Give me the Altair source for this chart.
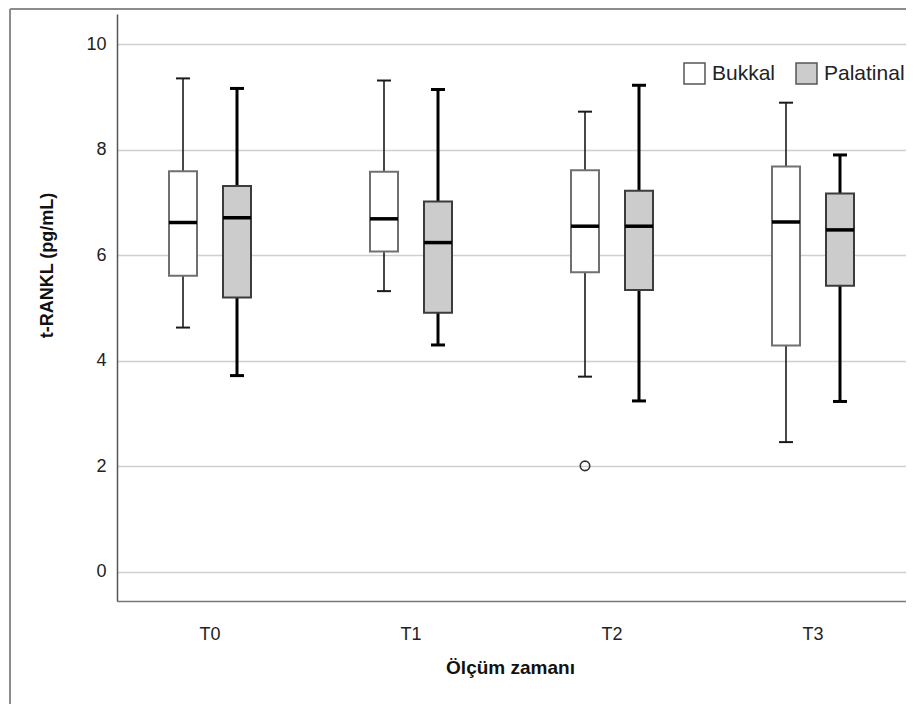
import altair as alt
import pandas as pd

# ---- data ----
times = ["T0", "T1", "T2", "T3"]
groups = ["Bukkal", "Palatinal"]
row_time = ["T0", "T0", "T1", "T1", "T2", "T2", "T3", "T3"]
row_group = ["Bukkal", "Palatinal"] * 4
w_low = [4.63, 3.72, 5.32, 4.30, 3.70, 3.24, 2.46, 3.23]
q1 = [5.61, 5.20, 6.07, 4.91, 5.68, 5.34, 4.29, 5.42]
median = [6.62, 6.71, 6.69, 6.24, 6.55, 6.55, 6.63, 6.48]
q3 = [7.59, 7.31, 7.58, 7.02, 7.61, 7.22, 7.68, 7.17]
w_high = [9.35, 9.16, 9.31, 9.14, 8.72, 9.22, 8.89, 7.90]
out_time = ["T2"]
out_group = ["Bukkal"]
out_value = [2.01]
y_ticks = [0, 2, 4, 6, 8, 10]

df = pd.DataFrame({"time": row_time, "group": row_group, "low": w_low,
                   "q1": q1, "med": median, "q3": q3, "high": w_high})
df_out = pd.DataFrame({"time": out_time, "group": out_group, "value": out_value})
df_one = pd.DataFrame({"a": [0]})

TICK_FONT = "Liberation Sans Narrow, Arial Narrow, Liberation Sans"
TITLE_FONT = "Liberation Sans, Arial"

x_enc = alt.X("time:N", sort=times,
              scale=alt.Scale(paddingInner=0.5, paddingOuter=0.2127),
              axis=alt.Axis(title="Ölçüm zamanı", labelAngle=0, ticks=False,
                            domainColor="#777777", domainWidth=1.5,
                            labelFont=TICK_FONT, labelFontSize=18, labelColor="#222222",
                            labelPadding=24,
                            titleFont=TITLE_FONT, titleFontSize=19, titleFontWeight="bold",
                            titleColor="#111111", titleX=393, titleY=66,
                            titleBaseline="middle", titleAnchor="middle"))
xo_enc = alt.XOffset("group:N", sort=groups,
                     scale=alt.Scale(paddingInner=0.3, paddingOuter=0.0805))
y_scale = alt.Scale(domain=[-0.55, 10.57], nice=False, zero=False)
y_axis = alt.Axis(title="t-RANKL (pg/mL)", values=y_ticks, ticks=False, grid=True,
                  gridColor="#cfcfcf", gridWidth=1.5,
                  domainColor="#555555", domainWidth=1.5,
                  labelFont=TICK_FONT, labelFontSize=18, labelColor="#222222",
                  labelPadding=11,
                  titleFont=TITLE_FONT, titleFontSize=18, titleFontWeight="bold",
                  titleColor="#111111", titleX=-70, titleY=251, titleAngle=270,
                  titleBaseline="middle", titleAlign="center")

fill_scale = alt.Scale(domain=groups, range=["#ffffff", "#cccccc"])
legend = alt.Legend(title=None, orient="none", legendX=566, legendY=48,
                    direction="horizontal", symbolType="square", symbolSize=440,
                    symbolStrokeColor="#555555", symbolStrokeWidth=1.5,
                    labelFont="Liberation Sans", labelFontSize=21, labelColor="#222222",
                    labelOffset=6, columnPadding=17, padding=0)

base = alt.Chart(df)

frame_left = alt.Chart(df_one).mark_rule(color="#8c8c8c", strokeWidth=2).encode(
    x=alt.value(-107), y=alt.value(-5), y2=alt.value(700))
frame_top = alt.Chart(df_one).mark_rule(color="#8c8c8c", strokeWidth=2).encode(
    x=alt.value(-107), x2=alt.value(800), y=alt.value(-5))

whisk_b = base.transform_filter(alt.datum.group == "Bukkal").mark_rule(
    color="#1a1a1a", strokeWidth=1.6).encode(
    x=x_enc, xOffset=xo_enc, y=alt.Y("low:Q", scale=y_scale, axis=y_axis), y2="high:Q")
whisk_p = base.transform_filter(alt.datum.group == "Palatinal").mark_rule(
    color="#000000", strokeWidth=3).encode(
    x=x_enc, xOffset=xo_enc, y=alt.Y("low:Q", scale=y_scale), y2="high:Q")

cap_lo_b = base.transform_filter(alt.datum.group == "Bukkal").mark_tick(
    color="#1a1a1a", thickness=2, size=14, opacity=1).encode(x=x_enc, xOffset=xo_enc, y="low:Q")
cap_hi_b = base.transform_filter(alt.datum.group == "Bukkal").mark_tick(
    color="#1a1a1a", thickness=2, size=14, opacity=1).encode(x=x_enc, xOffset=xo_enc, y="high:Q")
cap_lo_p = base.transform_filter(alt.datum.group == "Palatinal").mark_tick(
    color="#000000", thickness=3, size=14, opacity=1).encode(x=x_enc, xOffset=xo_enc, y="low:Q")
cap_hi_p = base.transform_filter(alt.datum.group == "Palatinal").mark_tick(
    color="#000000", thickness=3, size=14, opacity=1).encode(x=x_enc, xOffset=xo_enc, y="high:Q")

box_b = base.transform_filter(alt.datum.group == "Bukkal").mark_bar(
    width=28, stroke="#707070", strokeWidth=2, opacity=1).encode(
    x=x_enc, xOffset=xo_enc, y="q1:Q", y2="q3:Q",
    fill=alt.Fill("group:N", scale=fill_scale, legend=legend))
box_p = base.transform_filter(alt.datum.group == "Palatinal").mark_bar(
    width=28, stroke="#3c3c3c", strokeWidth=2, opacity=1).encode(
    x=x_enc, xOffset=xo_enc, y="q1:Q", y2="q3:Q",
    fill=alt.Fill("group:N", scale=fill_scale, legend=legend))

med = base.mark_tick(color="#000000", thickness=3.5, size=28, opacity=1).encode(
    x=x_enc, xOffset=xo_enc, y="med:Q")

outl = alt.Chart(df_out).mark_point(shape="circle", filled=False, size=90, opacity=1,
                                    color="#333333", strokeWidth=1.6).encode(
    x=x_enc, xOffset=xo_enc, y="value:Q")

chart = alt.layer(
    frame_left, frame_top, whisk_b, whisk_p, cap_lo_b, cap_hi_b, cap_lo_p, cap_hi_p,
    box_b, box_p, med, outl
).properties(
    width=789, height=587,
    padding={"left": 109, "top": 6, "right": 0, "bottom": 103},
    autosize=alt.AutoSizeParams(type="none"),
    background="white",
).configure_view(stroke=None)

chart.save("out.html", embed_options={"renderer": "svg", "actions": False})
